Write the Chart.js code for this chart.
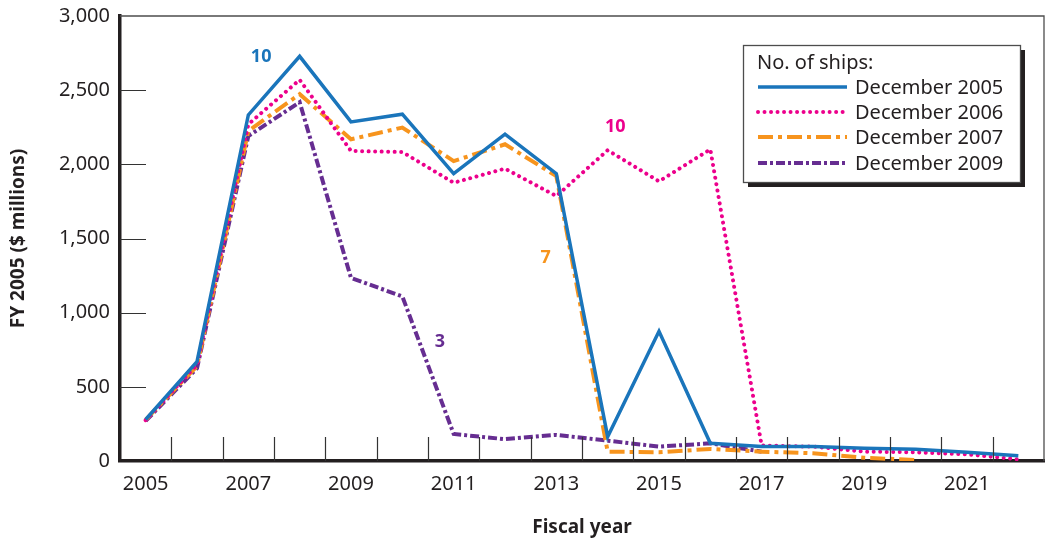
<!DOCTYPE html>
<html>
<head>
<meta charset="utf-8">
<script src="https://cdn.jsdelivr.net/npm/chart.js@4/dist/chart.umd.min.js"></script>
<style>
  html, body { margin: 0; padding: 0; background: #fff; }
  #wrap { width: 1054px; height: 542px; }
</style>
</head>
<body>
<div id="wrap"><canvas id="shipChart" width="1054" height="542"></canvas></div>
<script>
const years = ['2005', '2006', '2007', '2008', '2009', '2010', '2011', '2012', '2013',
    '2014', '2015', '2016', '2017', '2018', '2019', '2020', '2021', '2022'];

// FY 2005 $ millions
const dec2005 = [280, 670, 2333, 2728, 2286, 2338, 1937, 2203, 1937, 164, 874, 119, 97, 97, 86, 79, 59, 36];
const dec2006 = [275, 650, 2270, 2570, 2090, 2083, 1876, 1971, 1786, 2095, 1885, 2101, 104, 97, 63, 59, 45, 11];
const dec2007 = [278, 640, 2225, 2473, 2169, 2248, 2022, 2135, 1921, 63, 59, 81, 63, 52, 22, 7];
const dec2009 = [270, 625, 2191, 2419, 1234, 1110, 182, 147, 176, 137, 97, 119, 63];

const seriesNames = ['December 2005', 'December 2006', 'December 2007', 'December 2009'];
const seriesColors = ['#1a75bb', '#ec008c', '#f7941d', '#662d91'];

const yTicks = [0, 500, 1000, 1500, 2000, 2500, 3000];

// ship-count callouts: text, series index, x (category index), y (value)
const callouts = [
    { text: '10', series: 0, x: 2.25, y: 2723 },
    { text: '10', series: 1, x: 9.15, y: 2250 },
    { text: '7', series: 2, x: 7.79, y: 1372 },
    { text: '3', series: 3, x: 5.73, y: 804 }
];

const FONT = '"Noto Sans", "Open Sans", sans-serif';
const INK = '#231f20';

const lineStyles = [
    { width: 3.5, dash: [], cap: 'butt' },
    { width: 4, dash: [0.01, 6.5], cap: 'round' },
    { width: 4, dash: [15, 5, 4, 5], cap: 'butt' },
    { width: 4, dash: [9, 3, 3, 3], cap: 'butt' }
];

// Frame, inside tick marks, callouts and legend box
const FramePlugin = {
    id: 'framePlugin',
    afterDraw(chart) {
        const { ctx, chartArea: a, scales: { x, y } } = chart;
        ctx.save();

        // thin top/right frame
        ctx.strokeStyle = '#4d4d4d';
        ctx.lineWidth = 1.3;
        ctx.beginPath();
        ctx.moveTo(a.left, a.top);
        ctx.lineTo(a.right, a.top);
        ctx.lineTo(a.right, a.bottom);
        ctx.stroke();

        // inside ticks
        ctx.strokeStyle = '#333';
        ctx.lineWidth = 1.2;
        ctx.beginPath();
        for (let i = 0; i < years.length - 1; i++) {
            const px = Math.round((x.getPixelForValue(i) + x.getPixelForValue(i + 1)) / 2) + 0.5;
            ctx.moveTo(px, a.bottom);
            ctx.lineTo(px, a.bottom - 24);
        }
        for (const v of yTicks) {
            if (v === 0 || v === 3000) continue;
            const py = Math.round(y.getPixelForValue(v)) + 0.5;
            ctx.moveTo(a.left, py);
            ctx.lineTo(a.left + 26, py);
        }
        ctx.stroke();

        // callouts
        ctx.font = 'bold 18px ' + FONT;
        ctx.textAlign = 'center';
        ctx.textBaseline = 'middle';
        for (const c of callouts) {
            ctx.fillStyle = seriesColors[c.series];
            ctx.fillText(c.text, x.getPixelForValue(c.x), y.getPixelForValue(c.y));
        }

        // legend box with drop shadow
        const bx = 743, by = 45, bw = 277, bh = 137;
        ctx.fillStyle = '#231f20';
        ctx.fillRect(bx + 5, by + 5, bw, bh);
        ctx.fillStyle = '#fff';
        ctx.fillRect(bx, by, bw, bh);
        ctx.strokeStyle = '#4d4d4d';
        ctx.lineWidth = 1.3;
        ctx.strokeRect(bx + 0.5, by + 0.5, bw, bh);

        ctx.font = '20px ' + FONT;
        ctx.textAlign = 'left';
        ctx.fillStyle = INK;
        ctx.fillText('No. of ships:', 757, 63);
        const rows = [87, 112, 137, 163];
        chart.data.datasets.forEach((ds, i) => {
            const st = lineStyles[i];
            ctx.strokeStyle = ds.borderColor;
            ctx.lineWidth = st.width;
            ctx.lineCap = st.cap;
            ctx.setLineDash(st.dash);
            ctx.beginPath();
            ctx.moveTo(758, rows[i]);
            ctx.lineTo(847, rows[i]);
            ctx.stroke();
            ctx.setLineDash([]);
            ctx.lineCap = 'butt';
            ctx.fillStyle = INK;
            ctx.fillText(ds.label, 855, rows[i] + 1);
        });

        ctx.restore();
    }
};

const allSeries = [dec2005, dec2006, dec2007, dec2009];

new Chart(document.getElementById('shipChart'), {
    type: 'line',
    data: {
        labels: years,
        datasets: allSeries.map((d, i) => ({
            label: seriesNames[i],
            data: d,
            borderColor: seriesColors[i],
            borderWidth: lineStyles[i].width,
            borderDash: lineStyles[i].dash,
            borderCapStyle: lineStyles[i].cap,
            borderJoinStyle: 'miter',
            pointRadius: 0,
            tension: 0,
            fill: false
        }))
    },
    options: {
        responsive: false,
        animation: false,
        layout: { padding: { top: 16, right: 10, left: 0, bottom: 0 } },
        plugins: {
            legend: { display: false },
            tooltip: { enabled: false }
        },
        scales: {
            x: {
                type: 'category',
                offset: true,
                afterFit: s => { s.height = 81; s.paddingLeft = 0; s.paddingRight = 0; },
                grid: { display: false, drawTicks: false },
                border: { display: true, color: INK, width: 3.5 },
                ticks: {
                    autoSkip: false,
                    maxRotation: 0,
                    padding: 11,
                    color: INK,
                    font: { family: FONT, size: 20 },
                    callback: function (v) {
                        const lab = this.getLabelForValue(v);
                        return Number(lab) % 2 === 1 ? lab : '';
                    }
                },
                title: {
                    display: true,
                    text: 'Fiscal year',
                    color: INK,
                    font: { family: FONT, size: 19, weight: 'bold' },
                    padding: { top: 0, bottom: 3 }
                }
            },
            y: {
                min: 0,
                max: 3000,
                afterFit: s => { s.width = 120; s.paddingTop = 0; s.paddingBottom = 0; },
                afterBuildTicks: s => { s.ticks = yTicks.map(v => ({ value: v })); },
                grid: { display: false, drawTicks: false },
                border: { display: true, color: INK, width: 3.5 },
                ticks: {
                    padding: 10,
                    color: INK,
                    font: { family: FONT, size: 20 },
                    callback: v => v.toLocaleString('en-US')
                },
                title: {
                    display: true,
                    text: 'FY 2005 ($ millions)',
                    color: INK,
                    font: { family: FONT, size: 19, weight: 'bold' },
                    padding: { top: 7, bottom: 0 }
                }
            }
        }
    },
    plugins: [FramePlugin]
});
</script>
</body>
</html>
